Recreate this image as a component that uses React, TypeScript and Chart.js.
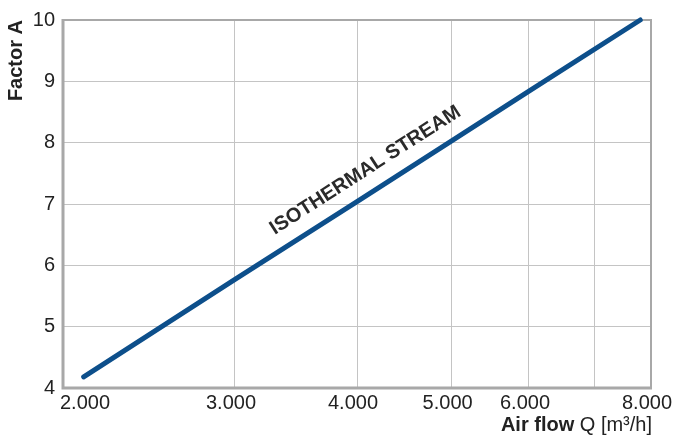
import React, { useEffect, useRef } from 'react';
import { Chart, registerables } from 'chart.js';

Chart.register(...registerables);

// ---- data ----
const flowQ = [2100, 3000, 4000, 5000, 6000, 7800];
const factorA = [4.18, 5.77, 7.04, 8.03, 8.84, 10.0];
const xTickValues = [2000, 3000, 4000, 5000, 6000, 7000, 8000];
const xTickLabels = ['2.000', '3.000', '4.000', '5.000', '6.000', '', '8.000'];
const yTickValues = [4, 5, 6, 7, 8, 9, 10];
const curveLabel = 'ISOTHERMAL STREAM';
const curveLabelAt = [4080, 7.55];
const yTitle = 'Factor A';
const xTitleBold = 'Air flow';
const xTitleRest = ' Q [m³/h]';

const FONT = '"Liberation Sans", Arial, Helvetica, sans-serif';
const TEXT = '#222222';
const FRAME = '#a8a8a8';
const GRID = '#c4c4c4';
const LINE = '#0d4f8b';

const decor = {
  id: 'decor',
  beforeDatasetsDraw(chart: any) {
    const { ctx, chartArea: a } = chart;
    ctx.save();
    ctx.strokeStyle = FRAME;
    ctx.lineWidth = 2;
    ctx.beginPath();
    ctx.moveTo(a.left, a.top);
    ctx.lineTo(a.right, a.top);
    ctx.lineTo(a.right, a.bottom);
    ctx.stroke();
    ctx.lineWidth = 3;
    ctx.beginPath();
    ctx.moveTo(a.left, a.top - 1);
    ctx.lineTo(a.left, a.bottom);
    ctx.lineTo(a.right + 1, a.bottom);
    ctx.stroke();
    ctx.restore();
  },
  afterDatasetsDraw(chart: any) {
    const { ctx, chartArea: a, scales } = chart;
    const x = scales.x;
    const y = scales.y;
    ctx.save();
    // x tick labels
    ctx.font = `20px ${FONT}`;
    ctx.fillStyle = TEXT;
    ctx.textBaseline = 'top';
    xTickValues.forEach((v, i) => {
      const lab = xTickLabels[i];
      if (!lab) return;
      const px = x.getPixelForValue(v);
      if (i === 0) {
        ctx.textAlign = 'left';
        ctx.fillText(lab, px - 3, a.bottom + 5);
      } else {
        ctx.textAlign = 'center';
        ctx.fillText(lab, px - 4, a.bottom + 5);
      }
    });
    // x title (mixed weight)
    ctx.textBaseline = 'alphabetic';
    ctx.textAlign = 'left';
    ctx.font = `20px ${FONT}`;
    const restW = ctx.measureText(xTitleRest).width;
    ctx.font = `bold 20px ${FONT}`;
    const boldW = ctx.measureText(xTitleBold).width;
    const startX = a.right + 1 - restW - boldW;
    const baseY = a.bottom + 43;
    ctx.fillText(xTitleBold, startX, baseY);
    ctx.font = `20px ${FONT}`;
    ctx.fillText(xTitleRest, startX + boldW, baseY);
    // curve label along the line
    const x1 = x.getPixelForValue(flowQ[0]);
    const y1 = y.getPixelForValue(factorA[0]);
    const x2 = x.getPixelForValue(flowQ[flowQ.length - 1]);
    const y2 = y.getPixelForValue(factorA[factorA.length - 1]);
    const ang = Math.atan2(y2 - y1, x2 - x1);
    const cx = x.getPixelForValue(curveLabelAt[0]);
    const cy = y.getPixelForValue(curveLabelAt[1]);
    ctx.translate(cx, cy);
    ctx.rotate(ang);
    ctx.font = `bold 20px ${FONT}`;
    ctx.textAlign = 'center';
    ctx.textBaseline = 'middle';
    ctx.fillStyle = '#2a2a2a';
    ctx.fillText(curveLabel, 0, 0);
    ctx.restore();
  },
};

export default function App() {
  const ref = useRef<HTMLCanvasElement | null>(null);

  useEffect(() => {
    document.body.style.margin = '0';
    const canvas = ref.current;
    if (!canvas) return;
    const chart = new Chart(canvas, {
      type: 'line',
      data: {
        datasets: [
          {
            data: flowQ.map((q, i) => ({ x: q, y: factorA[i] })),
            borderColor: LINE,
            borderWidth: 5,
            borderCapStyle: 'round',
            pointRadius: 0,
            tension: 0,
            clip: false,
          } as any,
        ],
      },
      options: {
        animation: false,
        responsive: true,
        maintainAspectRatio: false,
        layout: { padding: { top: 16, right: 27, left: 0, bottom: 0 } },
        plugins: { legend: { display: false }, tooltip: { enabled: false } },
        scales: {
          x: {
            type: 'logarithmic',
            min: 2000,
            max: 8000,
            afterBuildTicks: (s: any) => {
              s.ticks = xTickValues.map((v) => ({ value: v }));
            },
            afterFit: (s: any) => {
              s.height = 51;
              s.paddingLeft = 0;
              s.paddingRight = 0;
            },
            ticks: { display: false },
            grid: { color: GRID, lineWidth: 1, drawTicks: false },
            border: { display: false },
          },
          y: {
            type: 'linear',
            min: 4,
            max: 10,
            afterBuildTicks: (s: any) => {
              s.ticks = yTickValues.map((v) => ({ value: v }));
            },
            afterFit: (s: any) => {
              s.width = 63;
            },
            ticks: {
              font: { family: FONT, size: 20 },
              color: TEXT,
              padding: 8,
              callback: (v: any) => String(v),
            },
            grid: { color: GRID, lineWidth: 1, drawTicks: false },
            border: { display: false },
            title: {
              display: true,
              text: yTitle,
              align: 'end',
              color: TEXT,
              font: { family: FONT, size: 20, weight: 'bold' },
              padding: { top: 4, bottom: 0 },
            },
          },
        },
      } as any,
      plugins: [decor],
    });
    return () => chart.destroy();
  }, []);

  return (
    <div style={{ position: 'relative', width: 678, height: 439 }}>
      <canvas ref={ref} />
    </div>
  );
}
